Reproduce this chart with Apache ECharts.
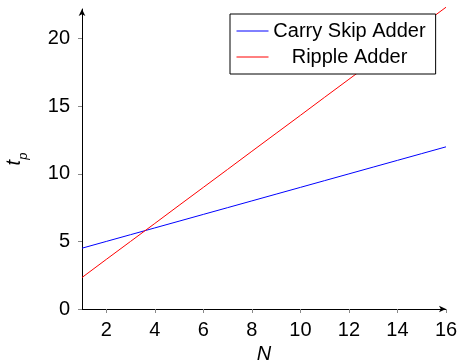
<!DOCTYPE html>
<html>
<head>
<meta charset="utf-8">
<script src="https://cdn.jsdelivr.net/npm/echarts@6/dist/echarts.min.js"></script>
<style>
  html, body { margin: 0; padding: 0; background: #fff; }
  #chart { width: 457px; height: 361px; }
</style>
</head>
<body>
<div id="chart"></div>
<script>
// N values and delay t_p
const nValues = [1, 2, 3, 4, 5, 6, 7, 8, 9, 10, 11, 12, 13, 14, 15, 16];
const carrySkip = [4.5, 5, 5.5, 6, 6.5, 7, 7.5, 8, 8.5, 9, 9.5, 10, 10.5, 11, 11.5, 12];
const ripple = [2.33, 3.67, 5, 6.33, 7.67, 9, 10.33, 11.67, 13, 14.33, 15.67, 17, 18.33, 19.67, 21, 22.33];
const xTicks = [2, 4, 6, 8, 10, 12, 14, 16];
const yTicks = [0, 5, 10, 15, 20];
const seriesNames = ['Carry Skip Adder', 'Ripple Adder'];

const font = '"Liberation Sans", Arial, sans-serif';
const chart = echarts.init(document.getElementById('chart'), null, { renderer: 'canvas' });

function pairs(ys) {
    return nValues.map((n, i) => [n, ys[i]]);
}

const axisCommon = {
    axisLine: { show: true, lineStyle: { color: '#000', width: 1 }, symbol: ['none', 'arrow'], symbolSize: [5, 7] },
    splitLine: { show: false }
};

chart.setOption({
    animation: false,
    grid: { left: 82, right: 11, top: 9, bottom: 52, outerBoundsMode: 'none', containLabel: false },
    legend: {
        data: seriesNames,
        orient: 'vertical',
        left: 230,
        top: 14,
        padding: [7, 10, 7, 6],
        borderColor: '#000',
        borderWidth: 1,
        borderRadius: 0,
        backgroundColor: '#fff',
        itemWidth: 32,
        itemHeight: 14,
        itemGap: 6,
        itemStyle: { opacity: 0 },
        lineStyle: { width: 1 },
        formatter: name => '{a|' + name + '}',
        textStyle: {
            fontFamily: font, fontSize: 20, color: '#000',
            rich: { a: { fontFamily: font, fontSize: 20, lineHeight: 20, width: 152, align: 'center' } }
        }
    },
    xAxis: Object.assign({}, axisCommon, {
        type: 'value',
        min: 1,
        max: 16,
        name: 'N',
        nameLocation: 'middle',
        nameGap: 32,
        nameTextStyle: { fontFamily: font, fontSize: 20, fontStyle: 'italic', color: '#000' },
        axisTick: { show: true, length: 4, lineStyle: { color: '#888' }, customValues: xTicks },
        axisLabel: { fontFamily: font, fontSize: 20, color: '#000', margin: 11, customValues: xTicks }
    }),
    yAxis: Object.assign({}, axisCommon, {
        type: 'value',
        min: 0,
        max: 22.2,
        name: '{t|t}{p|p}',
        nameLocation: 'middle',
        nameGap: 52,
        nameTextStyle: {
            color: '#000',
            rich: {
                t: { fontFamily: font, fontSize: 20, fontStyle: 'italic', verticalAlign: 'top', lineHeight: 20 },
                p: { fontFamily: font, fontSize: 13, fontStyle: 'italic', verticalAlign: 'bottom', lineHeight: 26 }
            }
        },
        axisTick: { show: true, length: 4, lineStyle: { color: '#888' }, customValues: yTicks },
        axisLabel: { fontFamily: font, fontSize: 20, color: '#000', margin: 12, customValues: yTicks }
    }),
    series: [
        {
            name: seriesNames[0],
            type: 'line',
            data: pairs(carrySkip),
            symbol: 'none',
            clip: false,
            lineStyle: { color: '#0000ff', width: 1 },
            itemStyle: { color: '#0000ff' }
        },
        {
            name: seriesNames[1],
            type: 'line',
            data: pairs(ripple),
            symbol: 'none',
            clip: false,
            lineStyle: { color: '#ff0000', width: 1 },
            itemStyle: { color: '#ff0000' }
        }
    ]
});
</script>
</body>
</html>
